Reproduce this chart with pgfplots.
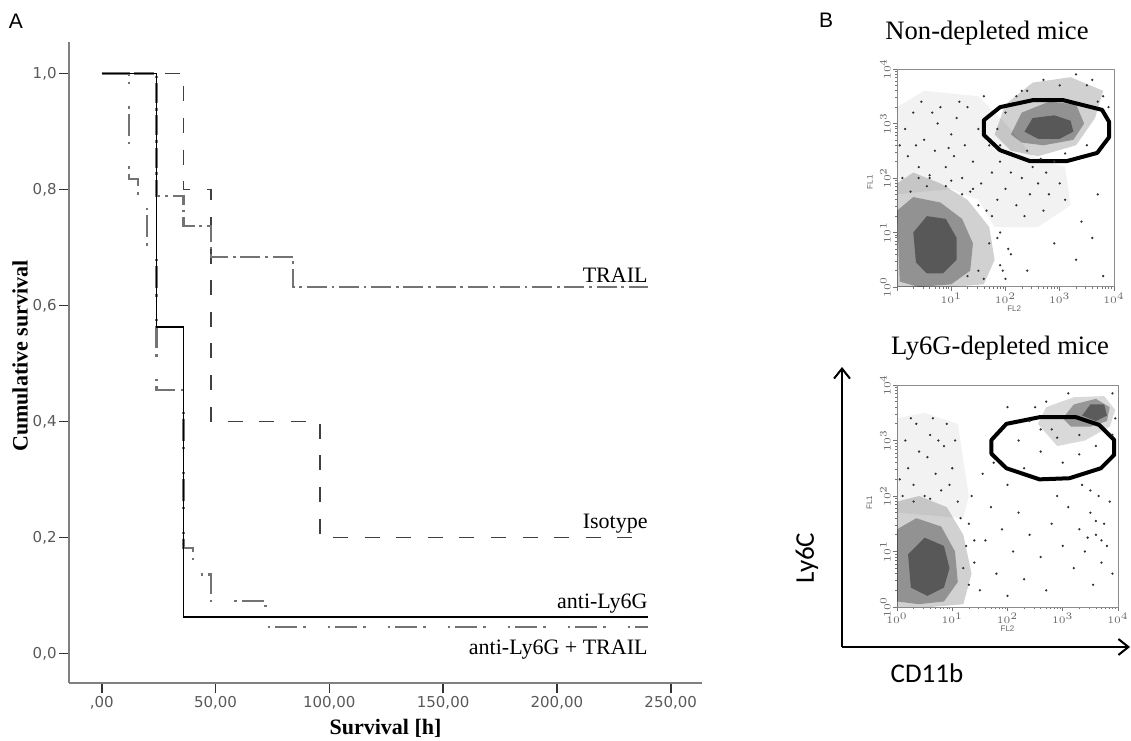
\documentclass[border=0pt]{standalone}
\usepackage{fontspec}
\setmainfont{Liberation Serif}
\newfontfamily\dejavu{DejaVu Sans}
\newfontfamily\carlito{Carlito}
\newfontfamily\arial{Liberation Sans}
\usepackage{pgfplots}
\pgfplotsset{compat=1.18}
\usetikzlibrary{arrows.meta}

\pgfplotsset{
  iso/.style={black!75, line width=0.75pt, dash pattern=on 7.5pt off 8.3pt},
  trail/.style={black!55, line width=1.2pt, dash pattern=on 10pt off 2.4pt on 1.3pt off 2.4pt},
  combo/.style={black!55, line width=1.2pt, dash pattern=on 1.2pt off 2.5pt on 11pt off 3pt on 1.2pt off 11.1pt},
  blob/.style={fill=black, draw=none, fill opacity=#1},
  dots/.style={only marks, mark=*, mark size=0.35pt, black!80},
  facs/.style={
    scale only axis, xmin=0, xmax=4, ymin=0, ymax=4,
    axis line style={black!45, line width=0.5pt},
    xtick={0,1,2,3,4}, ytick={0,1,2,3,4},
    minor xtick={0.301,0.477,0.602,0.699,0.778,0.845,0.903,0.954,1.301,1.477,1.602,1.699,1.778,1.845,1.903,1.954,2.301,2.477,2.602,2.699,2.778,2.845,2.903,2.954,3.301,3.477,3.602,3.699,3.778,3.845,3.903,3.954},
    minor ytick={0.301,0.477,0.602,0.699,0.778,0.845,0.903,0.954,1.301,1.477,1.602,1.699,1.778,1.845,1.903,1.954,2.301,2.477,2.602,2.699,2.778,2.845,2.903,2.954,3.301,3.477,3.602,3.699,3.778,3.845,3.903,3.954},
    tick align=outside, major tick length=2pt, minor tick length=1pt,
    xtick pos=bottom, ytick pos=left,
    tick style={black!55, line width=0.3pt},
    ticklabel style={font=\fontsize{4}{5}\selectfont, text=black!60},
    yticklabel style={rotate=90, anchor=south, inner sep=1pt},
    xticklabel style={inner sep=1pt},
    yticklabels={$10^0$,$10^1$,$10^2$,$10^3$,$10^4$},
    label style={font=\arial\fontsize{4}{5}\selectfont, text=black!60},
  },
}

\begin{document}
\begin{tikzpicture}
\useasboundingbox (0,0) rectangle (565.5pt,370pt);

% ---------------- panel A: survival
\begin{axis}[
  at={(34.5pt,28.5pt)}, anchor=south west,
  width=316.5pt, height=320.5pt, scale only axis,
  xmin=-14.37, xmax=263.75, ymin=-0.0509, ymax=1.0543,
  axis x line*=bottom, axis y line*=left,
  axis line style={black!50, line width=0.8pt},
  xtick={0,50,100,150,200,250},
  xticklabels={{,00},{50,00},{100,00},{150,00},{200,00},{250,00}},
  ytick={0,0.2,0.4,0.6,0.8,1},
  yticklabels={{0,0},{0,2},{0,4},{0,6},{0,8},{1,0}},
  tick align=outside, major tick length=5pt,
  tick style={black!80, line width=0.8pt},
  ticklabel style={font=\dejavu\fontsize{7.5}{9}\selectfont, text=black!65},
  yticklabel style={inner xsep=1pt},
  xticklabel style={inner ysep=1.5pt},
  xlabel={\textbf{Survival [h]}},
  ylabel={\textbf{Cumulative survival}},
  label style={font=\fontsize{11}{13}\selectfont},
  xlabel style={at={(axis description cs:0.5,-0.071)}, anchor=center},
  ylabel style={at={(axis description cs:-0.0774,0.51)}, anchor=center},
  clip=false,
]
% Isotype
\addplot[iso] coordinates {(0,1) (36,1) (36,0.8) (48,0.8) (48,0.4) (96,0.4) (96,0.2) (240,0.2)};
% TRAIL
\addplot[trail] coordinates {(0,1) (24,1) (24,0.789) (36,0.789) (36,0.737) (48,0.737) (48,0.684) (84,0.684) (84,0.632) (240,0.632)};
% anti-Ly6G + TRAIL
\addplot[combo] coordinates {(0,1) (12,1) (12,0.818) (16,0.818) (16,0.773) (20,0.773) (20,0.682) (24,0.682) (24,0.4545) (36,0.4545) (36,0.1818) (40,0.1818) (40,0.1364) (48,0.1364) (48,0.0909) (72,0.0909) (72,0.04545) (240,0.04545)};
% anti-Ly6G
\addplot[black, line width=0.8pt] coordinates {(0,1) (24,1) (24,0.5625) (36,0.5625) (36,0.0625) (240,0.0625)};

\begin{scope}[font=\fontsize{11}{13}\selectfont]
\node[anchor=south east, inner xsep=0pt, inner ysep=2pt] at (axis cs:240,0.632) {TRAIL};
\node[anchor=south east, inner xsep=0pt, inner ysep=2pt] at (axis cs:240,0.2) {Isotype};
\node[anchor=south east, inner xsep=0pt, inner ysep=2pt] at (axis cs:240,0.0625) {anti-Ly6G};
\node[anchor=north east, inner xsep=0pt, inner ysep=2pt, yshift=-4pt] at (axis cs:240,0.04545) {anti-Ly6G + TRAIL};
\end{scope}
\end{axis}

% ---------------- panel B top: non-depleted
\begin{axis}[facs,
  at={(448.5pt,226.5pt)}, anchor=south west,
  width=108.5pt, height=109pt,
  xticklabels={,$10^1$,$10^2$,$10^3$,$10^4$},
  xlabel={FL2}, ylabel={FL1},
  xlabel style={at={(axis description cs:0.54,-0.1)}, anchor=center},
  ylabel style={at={(axis description cs:-0.125,0.48)}, anchor=center},
]
\addplot[blob=0.05] coordinates {(0,1.7) (0,3.3) (0.5,3.6) (1.5,3.5) (2.0,3.0) (2.5,2.4) (3.1,2.2) (3.2,1.5) (2.6,1.1) (1.8,1.1) (1.5,1.6) (1.0,1.8)} -- cycle;
\addplot[blob=0.18] coordinates {(0,0) (0,1.9) (0.3,2.1) (0.8,1.9) (1.3,1.6) (1.7,1.1) (1.8,0.5) (1.6,0.05) (1.0,0)} -- cycle;
\addplot[blob=0.3] coordinates {(0.05,0.1) (0,1.4) (0.3,1.65) (0.8,1.55) (1.2,1.25) (1.4,0.8) (1.35,0.3) (1.0,0.05) (0.4,0.0)} -- cycle;
\addplot[blob=0.4] coordinates {(0.35,0.45) (0.3,1.0) (0.55,1.3) (0.9,1.25) (1.1,0.9) (1.1,0.5) (0.85,0.25) (0.55,0.25)} -- cycle;
\addplot[blob=0.18] coordinates {(1.8,2.8) (2.0,3.35) (2.5,3.75) (3.2,3.85) (3.8,3.6) (3.65,3.1) (3.3,2.6) (2.6,2.4) (2.1,2.5)} -- cycle;
\addplot[blob=0.3] coordinates {(2.1,2.8) (2.3,3.2) (2.8,3.4) (3.3,3.35) (3.45,3.0) (3.25,2.7) (2.7,2.6) (2.3,2.65)} -- cycle;
\addplot[blob=0.4] coordinates {(2.35,2.85) (2.5,3.1) (2.9,3.15) (3.2,3.05) (3.25,2.85) (3.0,2.72) (2.6,2.72)} -- cycle;
\addplot[dots] coordinates {
(0.1,2.0) (0.2,2.4) (0.15,2.9) (0.3,3.2) (0.4,2.2) (0.5,2.7) (0.45,3.4) (0.6,2.0)
(0.7,2.5) (0.75,3.0) (0.8,3.3) (0.9,2.2) (1.0,2.8) (1.05,2.4) (1.1,3.1) (1.2,2.0)
(1.25,2.6) (1.3,3.3) (1.4,2.3) (1.5,2.9) (1.55,1.9) (1.6,3.5) (1.7,2.6) (1.75,2.1)
(1.85,1.6) (1.9,2.3) (2.0,1.8) (2.1,2.1) (2.2,1.5) (2.3,2.0) (2.35,1.3) (2.45,1.7)
(2.5,2.2) (2.6,1.9) (2.7,1.4) (2.75,2.1) (2.8,1.7) (2.9,2.3) (3.0,1.9) (3.1,1.6)
(2.65,2.35) (0.25,1.75) (0.55,1.85) (1.0,1.95) (1.35,1.75) (1.65,1.4) (1.9,1.0)
(2.1,0.6) (2.4,0.3) (2.9,0.8) (3.3,0.5) (3.6,0.9) (3.8,0.2) (3.4,1.2) (3.7,1.7)
(2.0,0.15) (1.5,0.3) (2.4,3.6) (2.7,3.8) (3.0,3.7) (3.5,3.7) (3.7,3.4) (3.9,3.3)
(2.2,3.5) (3.3,3.9) (1.9,0.4) (1.7,0.8) (1.4,1.8) (0.4,2.0)
(1.85,0.9) (1.75,1.3) (1.5,1.5) (1.2,1.7) (0.9,1.85) (0.6,2.05) (1.95,0.3) (1.6,0.15)
(2.05,0.7) (1.3,0.2) (1.9,2.6) (2.0,3.2) (2.3,3.6) (3.6,3.8) (3.8,3.5) (3.5,2.6)
(3.1,2.45) (2.4,2.5) (1.85,2.9) (0.05,2.6) (0.35,2.6) (0.65,3.2) (1.15,3.4) (0.95,2.55)};
\addplot[black, line width=2pt, line join=round] coordinates {(1.60,3.06) (1.60,2.79) (1.90,2.51) (2.45,2.31) (3.13,2.31) (3.69,2.46) (3.91,2.75) (3.91,3.03) (3.78,3.25) (3.06,3.43) (2.51,3.43) (1.90,3.30)} -- cycle;
\end{axis}

% ---------------- panel B bottom: Ly6G-depleted
\begin{axis}[facs,
  at={(448.5pt,66.5pt)}, anchor=south west,
  width=110.5pt, height=111pt,
  xticklabels={$10^0$,$10^1$,$10^2$,$10^3$,$10^4$},
  xlabel={FL2}, ylabel={FL1},
  xlabel style={at={(axis description cs:0.50,-0.1)}, anchor=center},
  ylabel style={at={(axis description cs:-0.125,0.47)}, anchor=center},
]
\addplot[blob=0.05] coordinates {(0,1.7) (0,3.4) (0.5,3.5) (1.1,3.3) (1.3,2.0) (1.2,1.6)} -- cycle;
\addplot[blob=0.18] coordinates {(0,0) (0,1.9) (0.4,2.0) (0.9,1.8) (1.2,1.3) (1.35,0.6) (1.2,0.05) (0.6,0)} -- cycle;
\addplot[blob=0.3] coordinates {(0,0.1) (0,1.4) (0.35,1.6) (0.8,1.45) (1.05,1.0) (1.1,0.45) (0.85,0.1) (0.4,0.05)} -- cycle;
\addplot[blob=0.4] coordinates {(0.25,0.35) (0.2,0.95) (0.5,1.25) (0.85,1.1) (0.95,0.7) (0.85,0.35) (0.55,0.2)} -- cycle;
\addplot[blob=0.15] coordinates {(2.55,3.3) (2.7,3.6) (3.2,3.78) (3.75,3.8) (3.95,3.55) (3.85,3.25) (3.4,3.0) (2.9,2.9)} -- cycle;
\addplot[blob=0.3] coordinates {(3.0,3.4) (3.2,3.65) (3.6,3.75) (3.85,3.6) (3.8,3.35) (3.5,3.25) (3.15,3.25)} -- cycle;
\addplot[blob=0.4] coordinates {(3.35,3.45) (3.5,3.65) (3.75,3.65) (3.8,3.45) (3.6,3.35)} -- cycle;
\addplot[dots] coordinates {
(0.1,2.0) (0.2,2.5) (0.15,3.0) (0.3,2.2) (0.35,3.3) (0.5,2.0) (0.55,2.7) (0.6,3.1)
(0.65,3.4) (0.7,2.4) (0.8,2.1) (0.85,2.9) (0.9,3.3) (1.0,2.5) (1.05,3.0) (1.1,1.9)
(0.4,2.8) (0.25,3.4) (0.75,3.0) (0.95,2.2)
(1.3,1.5) (1.4,0.8) (1.5,0.3) (1.6,1.2) (1.7,1.8) (1.8,0.6) (1.9,1.4) (2.0,0.2)
(2.1,1.0) (2.2,1.7) (2.3,0.5) (2.4,1.3) (1.35,2.0) (1.55,2.4) (1.75,2.6) (2.0,2.2) (2.3,2.5)
(2.8,1.5) (2.9,2.0) (3.0,1.1) (3.1,1.8) (3.2,0.7) (3.3,1.4) (3.35,2.2) (3.4,1.0)
(3.5,1.7) (3.55,0.4) (3.6,1.3) (3.65,2.0) (3.7,0.8) (3.75,1.5) (3.8,1.1) (3.85,1.9)
(3.9,0.6) (3.45,1.25) (3.6,1.55) (2.6,0.9) (2.7,0.3)
(2.4,3.35) (2.2,3.0) (2.6,2.8) (3.0,2.6) (3.3,2.75) (3.6,2.9) (3.9,3.1) (2.0,3.6)
(2.5,3.6) (3.9,3.85) (2.8,3.2)
(1.3,0.4) (1.25,1.1) (1.15,1.6) (0.6,1.95) (1.4,1.2) (1.2,0.7) (0.3,1.9) (0.05,2.3)
(2.6,3.2) (2.9,3.05) (3.3,3.1) (3.95,3.4) (2.7,3.7) (3.1,3.85) (3.7,1.2) (3.5,2.1)};
\addplot[black, line width=2pt, line join=round] coordinates {(1.71,3.01) (1.98,3.30) (2.58,3.42) (3.24,3.42) (3.66,3.28) (3.93,3.01) (3.93,2.74) (3.69,2.50) (3.12,2.32) (2.58,2.30) (1.98,2.50) (1.71,2.76)} -- cycle;
\end{axis}

% ---------------- panel letters, titles, big axes
\node[font=\arial\fontsize{10.5}{12}\selectfont] at (8pt,359.5pt) {A};
\node[font=\arial\fontsize{10.5}{12}\selectfont] at (413pt,360pt) {B};
\node[font=\fontsize{13.3}{15}\selectfont] at (493.5pt,353.5pt) {Non-depleted mice};
\node[font=\fontsize{13.3}{15}\selectfont] at (500pt,196pt) {Ly6G-depleted mice};
\draw[line width=1pt, -{Straight Barb[length=5pt,width=8pt]}] (421pt,46.5pt) -- (421pt,186.5pt);
\draw[line width=1pt, -{Straight Barb[length=5pt,width=8pt]}] (421pt,46.5pt) -- (565pt,46.5pt);
\node[font=\carlito\fontsize{13.5}{15}\selectfont, rotate=90] at (403.5pt,91pt) {Ly6C};
\node[font=\carlito\fontsize{13.5}{15}\selectfont] at (463.5pt,33.5pt) {CD11b};
\end{tikzpicture}
\end{document}
